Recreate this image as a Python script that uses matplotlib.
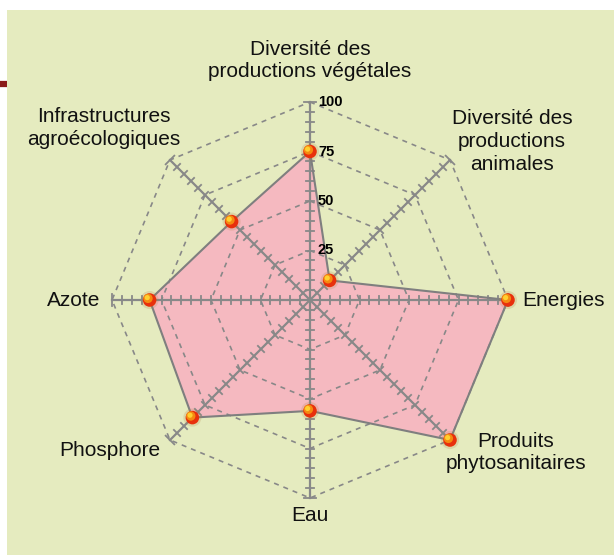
import numpy as np
import matplotlib.pyplot as plt
import matplotlib.patches as patches

plt.rcParams['font.family'] = ['Liberation Sans', 'DejaVu Sans']

# Data
labels = ['Diversité des\nproductions végétales',
          'Diversité des\nproductions\nanimales',
          'Energies',
          'Produits\nphytosanitaires',
          'Eau',
          'Phosphore',
          'Azote',
          'Infrastructures\nagroécologiques']
values = [75, 14, 100, 100, 56, 84, 81, 56]
grid_levels = [25, 50, 75, 100]
tick_labels = ['25', '50', '75', '100']

# label placement (data units, center at 0,0, radius 100)
label_pos = [(0, 121, 'center'), (102, 80, 'center'), (107, 0, 'left'),
             (104, -77, 'center'), (0, -109, 'center'), (-101, -76, 'center'),
             (-106, 0, 'right'), (-104, 87, 'center')]

W, H = 614, 555
cx, cy, scale = 310, 300, 1.98

fig = plt.figure(figsize=(W / 100, H / 100), dpi=100)
fig.patch.set_facecolor('white')
ax = fig.add_axes([0, 0, 1, 1])
ax.set_xlim(-cx / scale, (W - cx) / scale)
ax.set_ylim(-(H - cy) / scale, cy / scale)
ax.axis('off')

# background panel
x0, y0 = (7 - cx) / scale, -(H - cy) / scale
x1, y1 = (W - cx) / scale, (cy - 10) / scale
ax.add_patch(patches.Rectangle((x0, y0), x1 - x0, y1 - y0, facecolor='#e5ebbf',
                               edgecolor='none', zorder=0))
# small dark red mark at left edge
ax.plot([-cx / scale, x0], [(cy - 84) / scale] * 2, color='#8b1a1a', lw=4.5,
        solid_capstyle='butt', zorder=1)

n = len(values)
angles = np.deg2rad(90 - 45 * np.arange(n))
gray = '#888888'

# filled polygon
vx = np.array(values) * np.cos(angles)
vy = np.array(values) * np.sin(angles)
ax.fill(vx, vy, facecolor='#f5b9c0', edgecolor='none', zorder=2)

# octagonal dashed grid
for lev in grid_levels:
    gx = np.append(lev * np.cos(angles), lev * np.cos(angles[0]))
    gy = np.append(lev * np.sin(angles), lev * np.sin(angles[0]))
    ax.plot(gx, gy, color=gray, lw=1.2, ls=(0, (3, 3)), zorder=3)
ax.add_patch(patches.Circle((0, 0), 5, fill=False, edgecolor=gray, lw=1.0,
                            ls=(0, (2, 2)), zorder=3))

# axes with ticks every 5
tick_half = 2.2
for a in angles:
    ca, sa = np.cos(a), np.sin(a)
    ax.plot([0, 100 * ca], [0, 100 * sa], color=gray, lw=1.6, zorder=4)
    for r in range(5, 101, 5):
        px, py = r * ca, r * sa
        h = tick_half * (1.4 if r == 100 else 1.0)
        ax.plot([px - h * sa, px + h * sa], [py + h * ca, py - h * ca],
                color=gray, lw=1.3, zorder=4)

# polygon outline
ax.plot(np.append(vx, vx[0]), np.append(vy, vy[0]), color='#7f7f7f', lw=1.5,
        zorder=5)

# scale labels
for lev, t in zip(grid_levels, tick_labels):
    ax.text(4, lev, t, fontsize=10.5, fontweight='bold', ha='left', va='center',
            zorder=6)

# markers: glow, ball, highlight
ax.scatter(vx, vy, s=170, color='#b08040', alpha=0.2, edgecolors='none', zorder=6)
ax.scatter(vx, vy, s=95, color='#e8300c', edgecolors='none', zorder=7)
ax.scatter(vx - 0.8, vy + 0.8, s=45, color='#f58a10', edgecolors='none', zorder=8)
ax.scatter(vx - 1.2, vy + 1.2, s=14, color='#ffd030', edgecolors='none', zorder=9)

# category labels
for lab, (lx, ly, ha) in zip(labels, label_pos):
    ax.text(lx, ly, lab, fontsize=15, ha=ha, va='center', linespacing=1.25,
            color='#111111', zorder=6)

fig.savefig('out.png', dpi=100, facecolor='white')
